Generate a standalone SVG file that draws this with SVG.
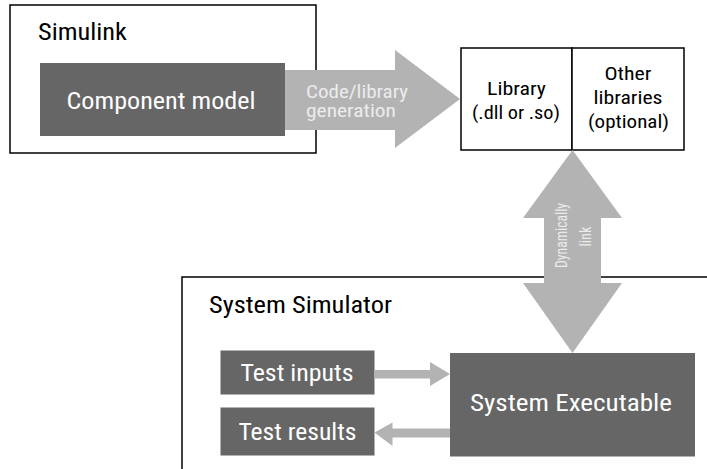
<svg xmlns="http://www.w3.org/2000/svg" width="707" height="469" viewBox="0 0 707 469">
<style>
text{font-family:"Liberation Sans Narrow","Roboto Condensed","Liberation Sans",Arial,sans-serif}
.frame{fill:#fff;stroke:#000;stroke-width:1.5}
.dark{fill:#666666}
.arr{fill:#b3b3b3}
.lbl{fill:#000;font-size:24px}
.wt{fill:#fff;font-size:24px;text-anchor:middle}
.at{fill:#ececec;font-size:18px}
.rt{fill:#ececec;font-size:17px;text-anchor:middle}
.lib{fill:#000;font-size:19px;text-anchor:middle}
</style>
<rect width="707" height="469" fill="#fff"/>
<g id="simulink">
<rect class="frame" x="10" y="5" width="306" height="148"/>
<text class="lbl" x="38" y="40" textLength="89" lengthAdjust="spacingAndGlyphs">Simulink</text>
</g>
<g id="system-simulator">
<rect class="frame" x="182" y="277" width="540" height="210"/>
<text class="lbl" x="209" y="312.5" textLength="183" lengthAdjust="spacingAndGlyphs">System Simulator</text>
</g>
<g id="component-model">
<rect class="dark" x="40" y="63" width="245" height="73"/>
<text class="wt" x="161" y="108.5" textLength="189" lengthAdjust="spacingAndGlyphs">Component model</text>
</g>
<g id="library">
<rect class="frame" x="461" y="48" width="111" height="102"/>
<text class="lib" x="516.5" y="95" textLength="59" lengthAdjust="spacingAndGlyphs">Library</text>
<text class="lib" x="516" y="119" textLength="88" lengthAdjust="spacingAndGlyphs">(.dll or .so)</text>
</g>
<g id="other-libraries">
<rect class="frame" x="572" y="48" width="112" height="102"/>
<text class="lib" x="628" y="80" textLength="47" lengthAdjust="spacingAndGlyphs">Other</text>
<text class="lib" x="628" y="104" textLength="69" lengthAdjust="spacingAndGlyphs">libraries</text>
<text class="lib" x="628.5" y="128" textLength="81" lengthAdjust="spacingAndGlyphs">(optional)</text>
</g>
<g id="test-inputs">
<rect class="dark" x="220.5" y="350.5" width="154" height="44"/>
<text class="wt" x="297" y="381" textLength="113" lengthAdjust="spacingAndGlyphs">Test inputs</text>
</g>
<g id="test-results">
<rect class="dark" x="220.5" y="407.5" width="154" height="48"/>
<text class="wt" x="297.5" y="440" textLength="118" lengthAdjust="spacingAndGlyphs">Test results</text>
</g>
<g id="system-executable">
<rect class="dark" x="450" y="353" width="245" height="103.5"/>
<text class="wt" x="571" y="411" textLength="202" lengthAdjust="spacingAndGlyphs">System Executable</text>
</g>
<g id="connectors">
<polygon class="arr" points="285,70 395,70 395,50 460,99 395,148 395,130 285,130"/>
<text class="at" x="306" y="97.5" textLength="102" lengthAdjust="spacingAndGlyphs">Code/library</text>
<text class="at" x="306" y="116.5" textLength="90" lengthAdjust="spacingAndGlyphs">generation</text>
<polygon class="arr" points="572.5,150 622,218 601,218 601,283 622,283 572.5,353 523,283 544,283 544,218 523,218"/>
<text class="rt" transform="translate(567,235.5) rotate(-90)" x="0" y="0" textLength="65" lengthAdjust="spacingAndGlyphs">Dynamically</text>
<text class="rt" transform="translate(591,236.5) rotate(-90)" x="0" y="0" textLength="20" lengthAdjust="spacingAndGlyphs">link</text>
<polygon class="arr" points="374.5,370 430,370 430,362 450,374 430,386 430,378.5 374.5,378.5"/>
<polygon class="arr" points="450,428.5 392.5,428.5 392.5,422.5 374.5,432.5 392.5,446 392.5,437.5 450,437.5"/>
</g>
</svg>
